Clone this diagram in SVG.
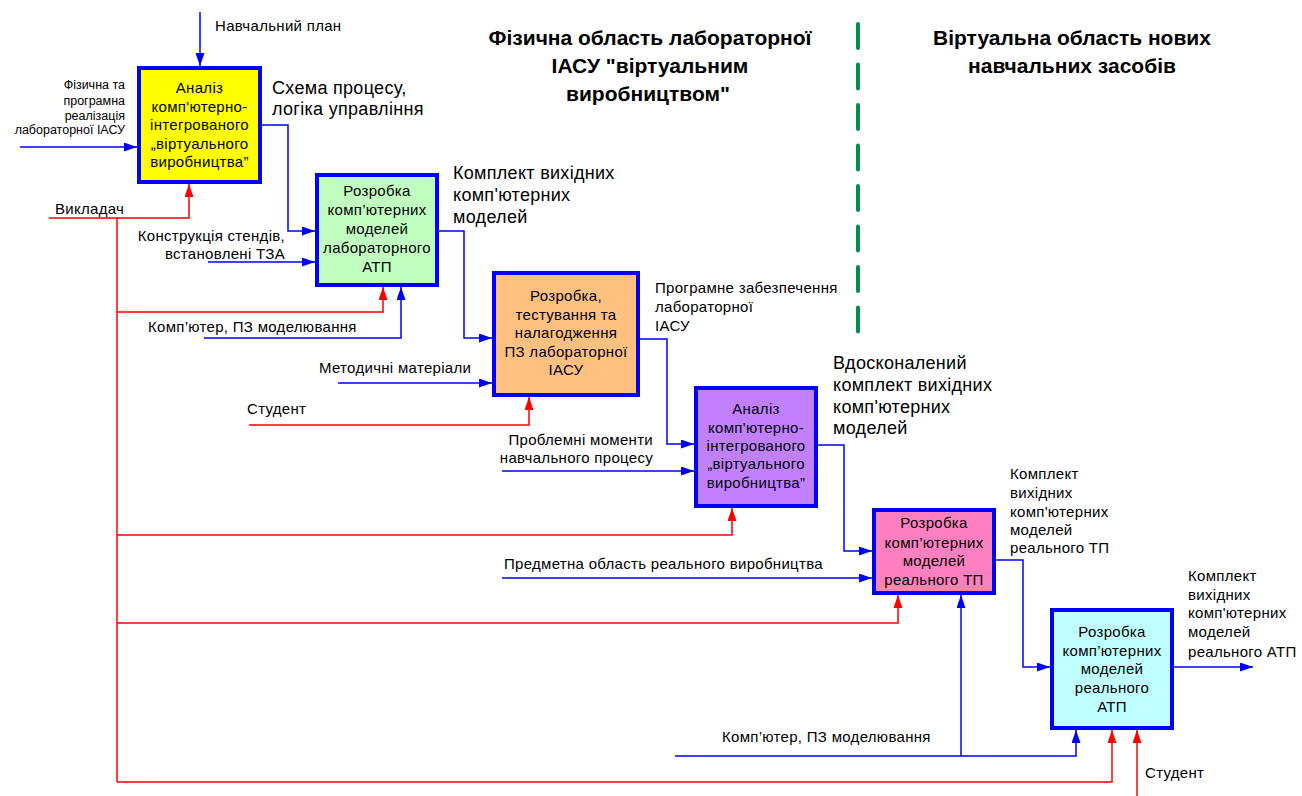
<svg xmlns="http://www.w3.org/2000/svg" width="1302" height="796" viewBox="0 0 1302 796">
<style>
text{font-family:"Liberation Sans",Arial,sans-serif;fill:#000}
.box{stroke:#0000ff;stroke-width:4}
.bt{font-size:15px;text-anchor:middle;letter-spacing:0.3px}
.lb{font-size:15px;letter-spacing:0.3px}
.sm{font-size:12.5px}
.bg{font-size:18px;letter-spacing:0.3px}
.hd{font-size:21px;font-weight:bold;text-anchor:middle}
.b{fill:none;stroke:#0000ff;stroke-width:1.5}
.r{fill:none;stroke:#ff0000;stroke-width:1.5}
.ab{marker-end:url(#ab)}
.ar{marker-end:url(#ar)}
</style>
<defs>
<marker id="ab" viewBox="0 0 13 9" refX="13" refY="4.5" markerWidth="13" markerHeight="9" markerUnits="userSpaceOnUse" orient="auto"><path d="M0,0 L13,4.5 L0,9 z" fill="#0000ff"/></marker>
<marker id="ar" viewBox="0 0 13 9" refX="13" refY="4.5" markerWidth="13" markerHeight="9" markerUnits="userSpaceOnUse" orient="auto"><path d="M0,0 L13,4.5 L0,9 z" fill="#ff0000"/></marker>
</defs>
<rect width="1302" height="796" fill="#fff"/>

<g id="headers">
<text class="hd" x="650" y="45">Фізична область лабораторної</text>
<text class="hd" x="650" y="73">ІАСУ "віртуальним</text>
<text class="hd" x="648" y="101">виробництвом"</text>
<text class="hd" x="1072" y="45">Віртуальна область нових</text>
<text class="hd" x="1072" y="73">навчальних засобів</text>
<line x1="858" y1="24" x2="858" y2="332" stroke="#078c4b" stroke-width="4" stroke-linecap="round" stroke-dasharray="24 16.5"/>
</g>

<g id="connectors">
<!-- blue -->
<path class="b ab" d="M200,12 V66"/>
<path class="b ab" d="M20,147 H137"/>
<path class="b ab" d="M262,125 H288 V231 H315"/>
<path class="b ab" d="M208,262 H315"/>
<path class="b ab" d="M439,231 H464 V338 H492"/>
<path class="b ab" d="M204,338 H401 V287"/>
<path class="b ab" d="M338,383 H492"/>
<path class="b ab" d="M640,339 H667 V444 H694"/>
<path class="b ab" d="M502,471 H694"/>
<path class="b ab" d="M818,445 H844 V551 H872"/>
<path class="b ab" d="M502,578 H872"/>
<path class="b ab" d="M996,560 H1023 V667 H1050"/>
<path class="b ab" d="M1174,667 H1253"/>
<path class="b ab" d="M675,756 H1076 V730"/>
<path class="b ab" d="M961,756 V595"/>
<!-- red -->
<path class="r ar" d="M49,218 H189 V184"/>
<path class="r" d="M117,218 V782"/>
<path class="r ar" d="M117,312 H383 V287"/>
<path class="r ar" d="M249,425 H529 V397"/>
<path class="r ar" d="M117,535 H732 V508"/>
<path class="r ar" d="M117,623 H898 V595"/>
<path class="r ar" d="M117,782 H1112 V730"/>
<path class="r ar" d="M1137,796 V730"/>
</g>

<g id="labels">
<text class="lb" x="215" y="31">Навчальний план</text>
<text class="sm" text-anchor="end" x="125" y="89">Фізична та</text>
<text class="sm" text-anchor="end" x="125" y="105">програмна</text>
<text class="sm" text-anchor="end" x="125" y="120">реалізація</text>
<text class="sm" text-anchor="end" x="125" y="134">лабораторної ІАСУ</text>
<text class="bg" x="272" y="94">Схема процесу,</text>
<text class="bg" x="272" y="115">логіка управління</text>
<text class="lb" x="55" y="214">Викладач</text>
<text class="lb" text-anchor="end" x="285" y="241">Конструкція стендів,</text>
<text class="lb" text-anchor="end" x="285" y="259">встановлені ТЗА</text>
<text class="bg" x="453" y="179">Комплект вихідних</text>
<text class="bg" x="453" y="201">комп'ютерних</text>
<text class="bg" x="453" y="223">моделей</text>
<text class="lb" x="148" y="332">Комп’ютер, ПЗ моделювання</text>
<text class="lb" x="319" y="373">Методичні матеріали</text>
<text class="lb" x="247" y="414">Студент</text>
<text class="lb" x="655" y="293">Програмне забезпечення</text>
<text class="lb" x="655" y="312">лабораторної</text>
<text class="lb" x="655" y="331">ІАСУ</text>
<text class="bg" x="833" y="369">Вдосконалений</text>
<text class="bg" x="833" y="391">комплект вихідних</text>
<text class="bg" x="833" y="413">комп'ютерних</text>
<text class="bg" x="833" y="434">моделей</text>
<text class="lb" text-anchor="end" x="653" y="445">Проблемні моменти</text>
<text class="lb" text-anchor="end" x="653" y="463">навчального процесу</text>
<text class="lb" x="504" y="569">Предметна область реального виробництва</text>
<text class="lb" x="1010" y="479">Комплект</text>
<text class="lb" x="1010" y="498">вихідних</text>
<text class="lb" x="1010" y="517">комп'ютерних</text>
<text class="lb" x="1010" y="535">моделей</text>
<text class="lb" x="1010" y="553">реального ТП</text>
<text class="lb" x="1188" y="581">Комплект</text>
<text class="lb" x="1188" y="600">вихідних</text>
<text class="lb" x="1188" y="618">комп'ютерних</text>
<text class="lb" x="1188" y="637">моделей</text>
<text class="lb" x="1188" y="657">реального АТП</text>
<text class="lb" x="722" y="742">Комп’ютер, ПЗ моделювання</text>
<text class="lb" x="1145" y="778">Студент</text>
</g>

<g id="node1">
<rect class="box" x="139" y="68" width="121" height="114" fill="#ffff00"/>
<text class="bt" x="199.5" y="93">Аналіз</text>
<text class="bt" x="199.5" y="111.5">комп'ютерно-</text>
<text class="bt" x="199.5" y="130">інтегрованого</text>
<text class="bt" x="199.5" y="148.5">„віртуального</text>
<text class="bt" x="199.5" y="167">виробництва”</text>
</g>
<g id="node2">
<rect class="box" x="317" y="175" width="120" height="110" fill="#c0ffc0"/>
<text class="bt" x="377" y="196">Розробка</text>
<text class="bt" x="377" y="215">комп’ютерних</text>
<text class="bt" x="377" y="234">моделей</text>
<text class="bt" x="377" y="253">лабораторного</text>
<text class="bt" x="377" y="272">АТП</text>
</g>
<g id="node3">
<rect class="box" x="494" y="273" width="144" height="122" fill="#ffc080"/>
<text class="bt" x="566" y="301">Розробка,</text>
<text class="bt" x="566" y="319.5">тестування та</text>
<text class="bt" x="566" y="338">налагодження</text>
<text class="bt" x="566" y="356.5">ПЗ лабораторної</text>
<text class="bt" x="566" y="375">ІАСУ</text>
</g>
<g id="node4">
<rect class="box" x="696" y="388" width="120" height="118" fill="#c080ff"/>
<text class="bt" x="756" y="414">Аналіз</text>
<text class="bt" x="756" y="433">комп'ютерно-</text>
<text class="bt" x="756" y="451">інтегрованого</text>
<text class="bt" x="756" y="469">„віртуального</text>
<text class="bt" x="756" y="488">виробництва”</text>
</g>
<g id="node5">
<rect class="box" x="874" y="510" width="120" height="83" fill="#ff80c0"/>
<text class="bt" x="934" y="528">Розробка</text>
<text class="bt" x="934" y="548">комп’ютерних</text>
<text class="bt" x="934" y="566">моделей</text>
<text class="bt" x="934" y="585">реального ТП</text>
</g>
<g id="node6">
<rect class="box" x="1052" y="610" width="120" height="118" fill="#c0ffff"/>
<text class="bt" x="1112" y="637">Розробка</text>
<text class="bt" x="1112" y="656">комп’ютерних</text>
<text class="bt" x="1112" y="674">моделей</text>
<text class="bt" x="1112" y="693">реального</text>
<text class="bt" x="1112" y="712">АТП</text>
</g>
</svg>
